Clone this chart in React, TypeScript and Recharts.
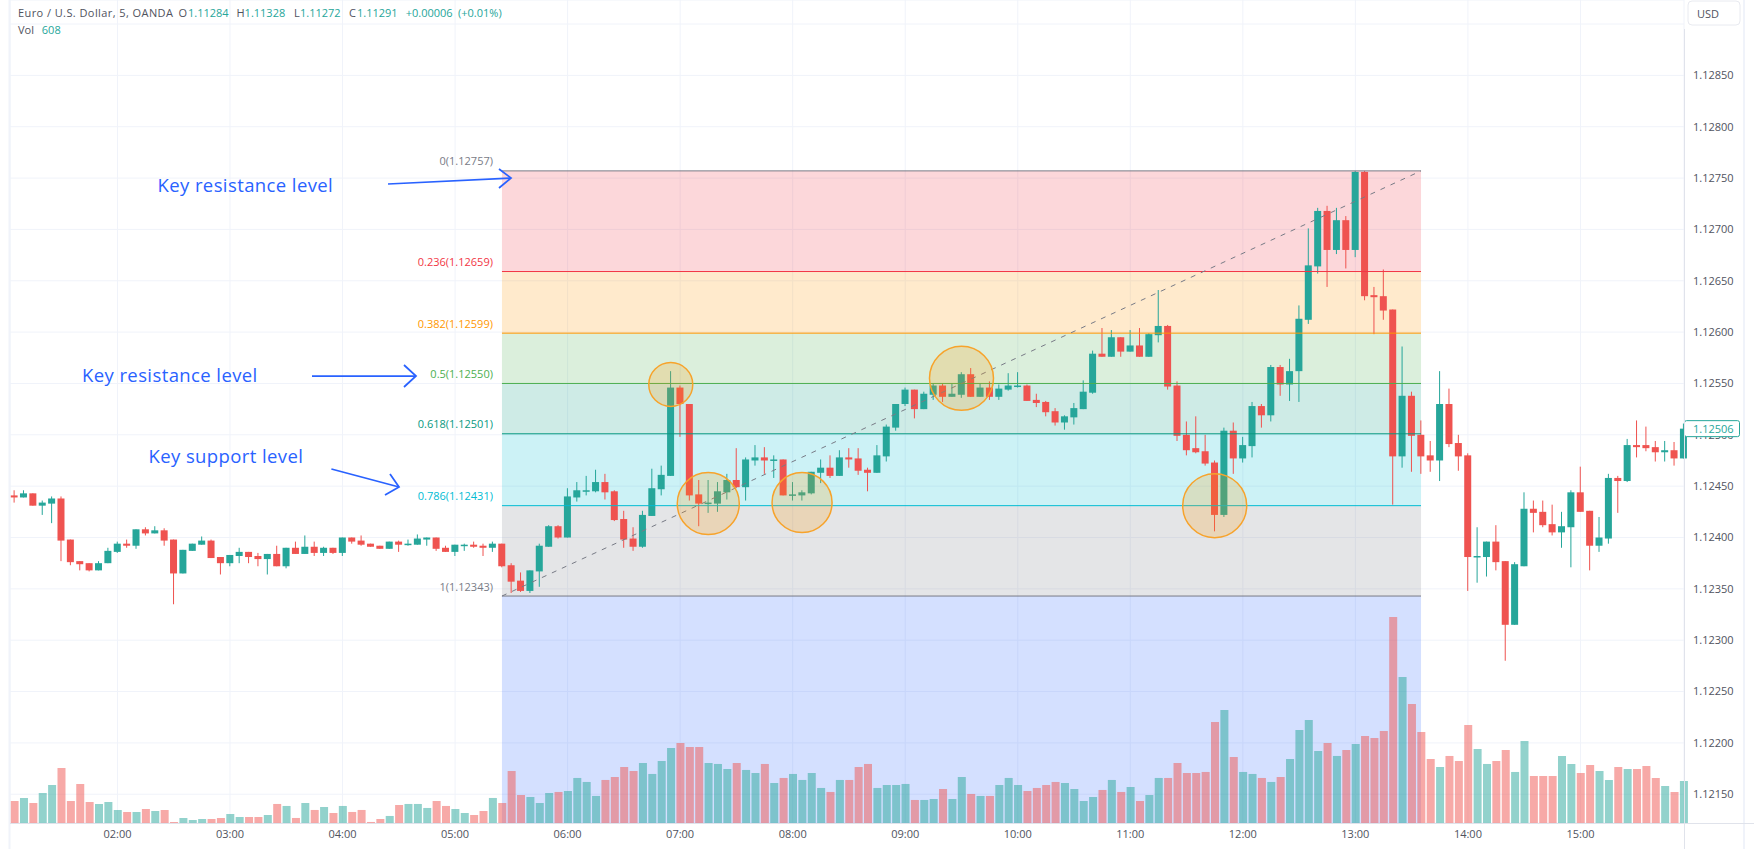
import React from "react";
import { Bar, CartesianGrid, Cell, ComposedChart, ReferenceArea, ReferenceDot, ReferenceLine, XAxis, YAxis } from "recharts";

// 5 minute bars, 01:05 to 15:55
const TIMES = [
  "01:05","01:10","01:15","01:20","01:25","01:30","01:35","01:40","01:45","01:50","01:55",
  "02:00","02:05","02:10","02:15","02:20","02:25","02:30","02:35","02:40","02:45","02:50","02:55",
  "03:00","03:05","03:10","03:15","03:20","03:25","03:30","03:35","03:40","03:45","03:50","03:55",
  "04:00","04:05","04:10","04:15","04:20","04:25","04:30","04:35","04:40","04:45","04:50","04:55",
  "05:00","05:05","05:10","05:15","05:20","05:25","05:30","05:35","05:40","05:45","05:50","05:55",
  "06:00","06:05","06:10","06:15","06:20","06:25","06:30","06:35","06:40","06:45","06:50","06:55",
  "07:00","07:05","07:10","07:15","07:20","07:25","07:30","07:35","07:40","07:45","07:50","07:55",
  "08:00","08:05","08:10","08:15","08:20","08:25","08:30","08:35","08:40","08:45","08:50","08:55",
  "09:00","09:05","09:10","09:15","09:20","09:25","09:30","09:35","09:40","09:45","09:50","09:55",
  "10:00","10:05","10:10","10:15","10:20","10:25","10:30","10:35","10:40","10:45","10:50","10:55",
  "11:00","11:05","11:10","11:15","11:20","11:25","11:30","11:35","11:40","11:45","11:50","11:55",
  "12:00","12:05","12:10","12:15","12:20","12:25","12:30","12:35","12:40","12:45","12:50","12:55",
  "13:00","13:05","13:10","13:15","13:20","13:25","13:30","13:35","13:40","13:45","13:50","13:55",
  "14:00","14:05","14:10","14:15","14:20","14:25","14:30","14:35","14:40","14:45","14:50","14:55",
  "15:00","15:05","15:10","15:15","15:20","15:25","15:30","15:35","15:40","15:45","15:50","15:55",
];

// prices below are in points above 1.12000
const OPENS = [
  441,439,443,431,433,438,398,377,375,368,375,386,394,392,408,404,407,398,365,387,393,397,381,375,382,386,382,379,384,372,
  390,384,391,385,390,385,400,397,394,392,389,396,393,393,398,400,390,386,392,393,392,390,394,373,358,348,367,391,411,400,
  439,445,445,454,445,418,399,391,421,447,460,546,530,442,433,433,444,456,449,475,478,475,476,441,441,443,463,468,460,478,
  477,466,463,479,507,530,544,525,539,548,537,539,559,537,546,537,544,547,548,534,532,523,512,517,525,541,579,576,595,581,
  587,576,597,606,548,500,487,484,473,422,504,477,489,528,519,566,549,562,612,664,718,680,709,680,756,636,635,622,479,538,
  500,480,475,530,492,480,381,381,396,377,315,372,428,425,413,405,410,444,426,392,399,458,455,490,490,488,483,485,477,
];
const HIGHS = [
  446,446,443,436,440,440,398,377,375,377,390,396,398,408,410,411,409,398,388,394,401,398,381,383,390,386,385,384,392,390,
  396,402,396,391,390,400,400,402,394,392,396,397,398,403,400,400,392,393,394,396,394,396,394,375,366,368,394,412,412,448,
  454,460,466,462,446,426,410,426,467,470,562,548,530,456,456,454,462,487,478,490,488,480,476,454,446,464,476,480,485,487,
  487,468,490,510,530,546,544,542,550,550,550,561,565,550,552,549,560,561,549,540,533,526,519,531,553,582,604,602,595,602,
  604,599,641,607,552,513,518,500,475,507,512,498,532,530,568,568,574,626,701,721,723,721,713,757,757,644,661,622,586,542,
  514,494,562,545,500,482,410,396,412,377,376,444,436,436,432,425,446,469,426,420,462,460,496,514,508,494,494,493,511,
];
const LOWS = [
  434,439,431,422,414,377,373,368,367,368,375,385,390,389,402,404,392,335,365,387,393,380,364,372,375,375,372,364,372,370,
  384,384,382,382,384,382,394,392,391,389,389,386,392,393,392,387,386,382,387,390,382,386,371,346,347,346,352,391,399,400,
  435,441,444,437,416,390,387,390,421,441,460,498,436,411,424,425,437,448,436,470,462,458,441,436,436,442,453,458,460,468,
  461,445,463,474,504,528,516,525,534,532,537,536,537,537,534,534,543,546,533,527,518,509,505,510,525,540,576,576,576,581,
  576,576,590,544,494,480,482,470,406,420,462,473,478,507,513,538,533,532,608,657,644,676,662,673,631,598,612,432,468,464,
  462,464,455,488,465,348,356,362,368,280,315,372,405,410,402,390,371,425,368,386,394,424,454,478,484,474,474,470,477,
];
const CLOSES = [
  439,443,431,434,438,397,376,374,368,375,387,394,392,408,404,407,397,365,388,394,397,380,375,383,386,381,379,384,372,390,
  384,391,385,390,385,400,396,393,391,389,396,393,394,399,400,389,386,393,393,391,390,394,372,357,348,368,392,411,400,440,
  446,446,454,444,417,398,391,422,448,461,546,530,441,433,434,445,456,449,476,478,475,476,441,442,444,464,468,460,478,476,
  465,463,480,508,530,544,525,540,548,537,540,559,537,546,537,545,548,548,533,531,522,512,518,526,542,579,576,595,581,587,
  576,598,606,547,499,485,483,472,422,504,477,490,528,519,566,549,562,613,665,718,680,709,680,756,635,634,621,479,538,499,
  479,475,530,491,479,381,382,396,376,315,374,428,424,412,405,411,444,425,392,400,458,455,490,488,487,483,485,477,506,
];
const VOLUMES = [
  319,363,290,435,551,798,319,566,305,276,305,189,160,160,203,174,189,15,73,44,58,58,73,131,87,87,87,116,276,247,
  73,290,189,232,145,247,160,189,15,58,102,261,276,276,218,319,247,203,145,116,174,363,290,754,406,377,290,435,450,464,
  653,595,392,624,667,812,754,870,711,899,1088,1160,1102,1102,870,856,783,870,769,725,856,580,653,711,624,725,508,450,624,624,
  812,856,508,551,551,566,334,334,348,493,348,667,421,392,392,551,653,551,464,508,551,595,580,493,319,377,479,624,450,522,
  319,406,653,653,870,725,725,740,1465,1639,957,740,711,653,595,667,928,1349,1494,1044,1160,972,1059,1146,1262,1233,1334,2987,2117,1726,
  1320,928,812,972,899,1421,1073,856,899,1059,740,1189,682,682,682,972,856,725,841,754,624,812,783,783,827,653,537,450,608,
];

const HOUR_TICKS = ["02:00","03:00","04:00","05:00","06:00","07:00","08:00","09:00","10:00","11:00","12:00","13:00","14:00","15:00"];
const PRICE_TICKS = [1.1215,1.122,1.1225,1.123,1.1235,1.124,1.1245,1.125,1.1255,1.126,1.1265,1.127,1.1275,1.128,1.1285,1.129];

const FIB_LEVELS = [
  { name: "0", price: 1.12757, line: "#787b86", fill: "rgba(242,54,69,0.2)" },
  { name: "0.236", price: 1.12659, line: "#f23645", fill: "rgba(255,152,0,0.2)" },
  { name: "0.382", price: 1.12599, line: "#ff9800", fill: "rgba(76,175,80,0.2)" },
  { name: "0.5", price: 1.1255, line: "#4caf50", fill: "rgba(8,153,129,0.2)" },
  { name: "0.618", price: 1.12501, line: "#089981", fill: "rgba(0,188,212,0.2)" },
  { name: "0.786", price: 1.12431, line: "#00bcd4", fill: "rgba(120,123,134,0.2)" },
  { name: "1", price: 1.12343, line: "#787b86", fill: "rgba(41,98,255,0.2)" },
];
const FIB_START = "05:25";
const FIB_END = "13:35";
const TOUCHES = [
  { time: "06:55", price: 1.12549, r: 22 },
  { time: "07:15", price: 1.12433, r: 31 },
  { time: "08:05", price: 1.12434, r: 30 },
  { time: "09:30", price: 1.12555, r: 32 },
  { time: "11:45", price: 1.12431, r: 32 },
];

const UP = "#26a69a";
const DOWN = "#ef5350";
const FONT = "'Open Sans', sans-serif";
const PRICE_MIN = 1.12122;
const PRICE_MAX = 1.129234;
const LAST_PRICE = 1.12506;
const HALF_BAND = 4.69;

const toPrice = (p: number) => 1.12 + p / 100000;
const rows = TIMES.map((time, i) => ({
  time,
  open: toPrice(OPENS[i]),
  high: toPrice(HIGHS[i]),
  low: toPrice(LOWS[i]),
  close: toPrice(CLOSES[i]),
  range: [toPrice(LOWS[i]), toPrice(HIGHS[i])],
  volume: VOLUMES[i],
}));

function Candle(props: any) {
  const { x, y, width, height, payload } = props;
  const { open, high, low, close } = payload;
  const color = close >= open ? UP : DOWN;
  const perUnit = height / (high - low || 1);
  const top = y + (high - Math.max(open, close)) * perUnit;
  const bodyHeight = Math.max(Math.abs(open - close) * perUnit, 1.5);
  const mid = x + width / 2;
  return (
    <g>
      <rect x={mid - 0.5} y={y} width={1} height={height} fill={color} />
      <rect x={x} y={top} width={width} height={bodyHeight} fill={color} />
    </g>
  );
}

// the fib box runs from bar centre to bar centre, not band edge to band edge
function FibZone(props: any) {
  const { x, y, width, height, fill } = props;
  return <rect x={x + HALF_BAND} y={y} width={width - 2 * HALF_BAND} height={height} fill={fill} />;
}

function FibLabel(props: any) {
  const { viewBox, text, color } = props;
  return (
    <text x={viewBox.x - 9} y={viewBox.y - 10} textAnchor="end" dominantBaseline="central" fontFamily={FONT} fontSize={11} fill={color}>
      {text}
    </text>
  );
}

function LastPriceTag(props: any) {
  const { viewBox } = props;
  const y = viewBox.y;
  return (
    <g>
      <rect x={1684.5} y={y - 8} width={55} height={16} rx={2} fill="#fff" stroke={UP} />
      <text x={1693} y={y} dominantBaseline="central" fontFamily={FONT} fontSize={11} fill={UP}>
        {LAST_PRICE.toFixed(5)}
      </text>
    </g>
  );
}

function Arrow({ from, to, head }: { from: number[]; to: number[]; head: number[][] }) {
  return (
    <g stroke="#2962ff" strokeWidth={1.75} fill="none">
      <line x1={from[0]} y1={from[1]} x2={to[0]} y2={to[1]} />
      <polyline points={`${head[0][0]},${head[0][1]} ${to[0]},${to[1]} ${head[1][0]},${head[1][1]}`} />
    </g>
  );
}

function Overlay() {
  return (
    <svg width={1754} height={849} style={{ position: "absolute", left: 0, top: 0, pointerEvents: "none" }}>
      <rect x={8.5} y={0} width={2} height={849} fill="#f0f3fa" />
      <rect x={1743} y={0} width={2} height={849} fill="#f0f3fa" />
      <line x1={1684.5} y1={29} x2={1684.5} y2={849} stroke="#e0e3eb" />
      <line x1={10} y1={823.5} x2={1754} y2={823.5} stroke="#e0e3eb" />

      <text y={12} dominantBaseline="central" fontFamily={FONT} fontSize={11} fill="#50535e">
        <tspan x={18} letterSpacing={0.42}>Euro / U.S. Dollar, 5, OANDA</tspan>
        <tspan x={178.6}>O</tspan>
        <tspan x={188} fill={UP}>1.11284</tspan>
        <tspan x={236.4}>H</tspan>
        <tspan x={244.6} fill={UP}>1.11328</tspan>
        <tspan x={294}>L</tspan>
        <tspan x={300} fill={UP}>1.11272</tspan>
        <tspan x={349}>C</tspan>
        <tspan x={357} fill={UP}>1.11291</tspan>
        <tspan x={405.7} fill={UP}>+0.00006</tspan>
        <tspan x={458} fill={UP}>(+0.01%)</tspan>
      </text>
      <text y={29} dominantBaseline="central" fontFamily={FONT} fontSize={11} fill="#50535e">
        <tspan x={18}>Vol</tspan>
        <tspan x={41.8} fill={UP}>608</tspan>
      </text>

      <rect x={1688} y={1} width={52} height={24} rx={4} fill="#fff" stroke="#e8eaf0" />
      <text x={1697} y={13} dominantBaseline="central" fontFamily={FONT} fontSize={11} fill="#50535e">USD</text>

      <g fontFamily={FONT} fontSize={18.5} letterSpacing={0.4} fill="#2962ff" dominantBaseline="central">
        <text x={157.5} y={184}>Key resistance level</text>
        <text x={82} y={374}>Key resistance level</text>
        <text x={148.5} y={455}>Key support level</text>
      </g>
      <Arrow from={[388, 184]} to={[511, 178]} head={[[499, 169], [499, 188]]} />
      <Arrow from={[312, 376]} to={[416, 376]} head={[[404, 365], [404, 387]]} />
      <Arrow from={[331.4, 469]} to={[399, 487]} head={[[390, 474], [385, 495]]} />
    </svg>
  );
}

export default function App() {
  return (
    <div style={{ position: "absolute", left: 0, top: 0, width: 1754, height: 849, background: "#fff", overflow: "hidden" }}>
      <ComposedChart width={1754} height={849} data={rows} margin={{ top: 0, right: 0, bottom: 0, left: 10 }}>
        <XAxis
          xAxisId="price"
          dataKey="time"
          ticks={HOUR_TICKS}
          interval={0}
          padding={{ left: -0.4, right: -4.3 }}
          allowDataOverflow
          height={26}
          axisLine={false}
          tickLine={false}
          tickSize={0}
          tickMargin={7}
          tick={{ fontSize: 11, fontFamily: FONT, fill: "#50535e" }}
        />
        <XAxis xAxisId="vol" dataKey="time" hide padding={{ left: -0.4, right: -4.3 }} allowDataOverflow />
        <YAxis
          yAxisId="price"
          orientation="right"
          width={70}
          domain={[PRICE_MIN, PRICE_MAX]}
          allowDataOverflow
          ticks={PRICE_TICKS}
          interval={0}
          axisLine={false}
          tickLine={false}
          tickSize={0}
          tickMargin={9}
          tickFormatter={(v: number) => (v > 1.1289 ? "" : v.toFixed(5))}
          tick={{ fontSize: 11, fontFamily: FONT, fill: "#50535e" }}
        />
        <YAxis yAxisId="vol" hide domain={[0, 11934]} />
        <CartesianGrid xAxisId="price" yAxisId="price" stroke="#f0f3fa" />

        {FIB_LEVELS.map((level, i) => (
          <ReferenceArea
            key={level.name}
            xAxisId="price"
            yAxisId="price"
            x1={FIB_START}
            x2={FIB_END}
            y1={level.price}
            y2={i < FIB_LEVELS.length - 1 ? FIB_LEVELS[i + 1].price : PRICE_MIN}
            fill={level.fill}
            fillOpacity={1}
            stroke="none"
            ifOverflow="hidden"
            shape={<FibZone />}
          />
        ))}
        {FIB_LEVELS.map((level) => (
          <ReferenceLine
            key={level.name}
            xAxisId="price"
            yAxisId="price"
            segment={[{ x: FIB_START, y: level.price }, { x: FIB_END, y: level.price }]}
            stroke={level.line}
            label={<FibLabel text={`${level.name}(${level.price.toFixed(5)})`} color={level.line} />}
          />
        ))}
        <ReferenceLine
          xAxisId="price"
          yAxisId="price"
          segment={[{ x: FIB_START, y: 1.12343 }, { x: FIB_END, y: 1.12757 }]}
          stroke="#787b86"
          strokeDasharray="5 6"
        />
        {TOUCHES.map((c) => (
          <ReferenceDot
            key={c.time}
            xAxisId="price"
            yAxisId="price"
            x={c.time}
            y={c.price}
            r={c.r}
            fill="rgba(255,152,0,0.2)"
            stroke="#f7a32b"
            strokeWidth={1.5}
          />
        ))}

        <Bar xAxisId="vol" yAxisId="vol" dataKey="volume" barSize={8} fillOpacity={0.5} isAnimationActive={false}>
          {rows.map((row) => (
            <Cell key={row.time} fill={row.close >= row.open ? UP : DOWN} />
          ))}
        </Bar>
        <Bar xAxisId="price" yAxisId="price" dataKey="range" barSize={7} shape={<Candle />} isAnimationActive={false} />

        <ReferenceLine xAxisId="price" yAxisId="price" y={LAST_PRICE} stroke="none" label={<LastPriceTag />} zIndex={3000} />
      </ComposedChart>
      <Overlay />
    </div>
  );
}
